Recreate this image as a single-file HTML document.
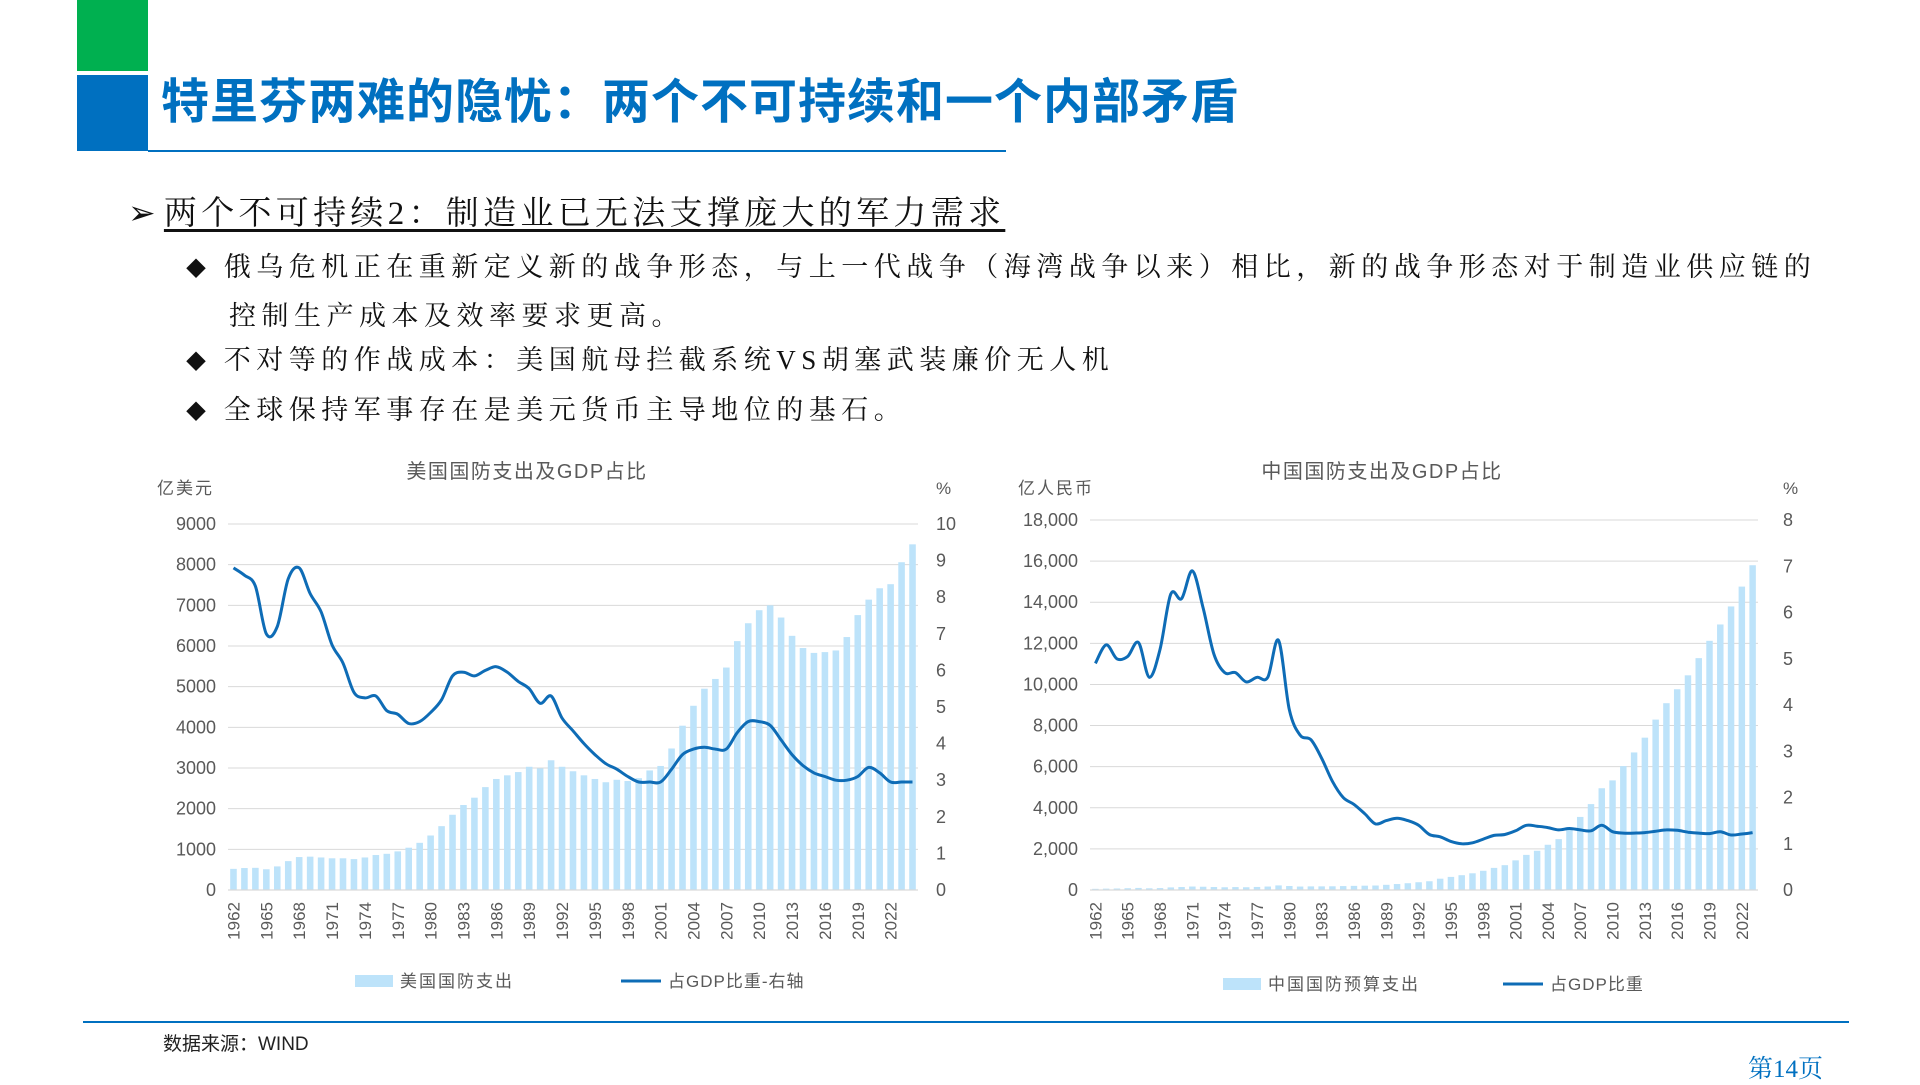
<!DOCTYPE html>
<html><head><meta charset="utf-8">
<style>
html,body{margin:0;padding:0;background:#fff;}
body{width:1920px;height:1080px;position:relative;overflow:hidden;font-family:"Liberation Sans","Noto Sans CJK SC",sans-serif;}
.abs{position:absolute;}
.serif{font-family:"Liberation Serif","Noto Serif CJK SC",serif;color:#111;}
</style></head><body>
<div class="abs" style="left:77px;top:0;width:71px;height:71px;background:#00B050;"></div>
<div class="abs" style="left:77px;top:75px;width:71px;height:76px;background:#0070C0;"></div>
<div class="abs" style="left:148px;top:150px;width:858px;height:2px;background:#0070C0;"></div>
<div class="abs" style="left:161px;top:62px;font-size:48px;letter-spacing:1px;font-weight:bold;color:#0070C0;font-family:'Liberation Sans','Noto Sans CJK SC',sans-serif;white-space:nowrap;">特里芬两难的隐忧：两个不可持续和一个内部矛盾</div>

<div class="abs serif" style="left:128px;top:187px;font-size:33px;white-space:nowrap;">➢ <span style="text-decoration:underline;text-underline-offset:5px;letter-spacing:4.3px;">两个不可持续2：制造业已无法支撑庞大的军力需求</span></div>
<div class="abs serif" style="left:186px;top:244px;font-size:27px;letter-spacing:5.5px;line-height:46px;white-space:nowrap;"><span style="font-size:20px;">◆</span>&nbsp;<span style="letter-spacing:5.5px;">俄乌危机正在重新定义新的战争形态，与上一代战争（海湾战争以来）相比，新的战争形态对于制造业供应链的</span><br><span style="margin-left:43px;">控制生产成本及效率要求更高。</span></div>
<div class="abs serif" style="left:186px;top:340px;font-size:27px;letter-spacing:5.5px;line-height:40px;white-space:nowrap;"><span style="font-size:20px;">◆</span>&nbsp;不对等的作战成本：美国航母拦截系统VS胡塞武装廉价无人机</div>
<div class="abs serif" style="left:186px;top:390px;font-size:27px;letter-spacing:5.5px;line-height:40px;white-space:nowrap;"><span style="font-size:20px;">◆</span>&nbsp;全球保持军事存在是美元货币主导地位的基石。</div>

<svg id="chart" class="abs" style="left:0;top:0" width="1920" height="1080"></svg>

<div class="abs" style="left:83px;top:1021px;width:1766px;height:2px;background:#0070C0;"></div>
<div class="abs" style="left:163px;top:1029px;font-size:19px;color:#222;">数据来源：WIND</div>
<div class="abs" style="left:1748px;top:1049px;font-size:25px;color:#0070C0;font-family:'Liberation Serif','Noto Serif CJK SC',serif;">第14页</div>

<script>
const usYears = [];
for (let y = 1962; y <= 2024; y++) usYears.push(y);
const usSpend = [520,540,545,510,580,710,810,820,800,780,780,760,800,860,890,950,1040,1160,1340,1570,1850,2090,2270,2530,2730,2820,2900,3030,2990,3190,3030,2920,2820,2730,2650,2710,2680,2750,2940,3050,3480,4040,4530,4950,5190,5470,6120,6560,6880,7000,6700,6250,5950,5830,5850,5890,6220,6760,7140,7420,7520,8060,8500];
const usPct = [8.8,8.6,8.3,7.0,7.2,8.5,8.8,8.1,7.6,6.7,6.2,5.4,5.25,5.3,4.9,4.8,4.55,4.6,4.85,5.2,5.85,5.95,5.85,6.0,6.1,5.95,5.7,5.5,5.1,5.3,4.7,4.35,4.0,3.7,3.45,3.3,3.1,2.95,2.95,2.95,3.3,3.7,3.85,3.9,3.85,3.85,4.3,4.6,4.6,4.5,4.1,3.7,3.4,3.2,3.1,3.0,3.0,3.1,3.35,3.2,2.95,2.95,2.95];
const usLeftTicks = ["0","1000","2000","3000","4000","5000","6000","7000","8000","9000"];
const usRightTicks = ["0","1","2","3","4","5","6","7","8","9","10"];

const cnYears = [];
for (let y = 1962; y <= 2023; y++) cnYears.push(y);
const cnSpend = [57,66,73,87,101,83,94,126,145,169,159,145,133,142,134,149,168,223,194,168,176,177,181,191,201,210,218,252,290,330,378,426,551,637,720,813,935,1076,1208,1442,1708,1908,2200,2475,2979,3555,4179,4951,5333,6028,6692,7411,8290,9088,9766,10444,11280,12122,12918,13795,14760,15800];
const cnPct = [4.9,5.3,5.0,5.05,5.35,4.6,5.2,6.4,6.3,6.9,6.1,5.1,4.7,4.7,4.5,4.6,4.6,5.4,3.9,3.35,3.25,2.85,2.35,2.0,1.85,1.65,1.43,1.5,1.55,1.5,1.4,1.2,1.15,1.05,1.0,1.02,1.1,1.18,1.2,1.28,1.4,1.38,1.35,1.3,1.33,1.3,1.28,1.4,1.26,1.23,1.23,1.24,1.27,1.3,1.29,1.25,1.23,1.22,1.26,1.19,1.21,1.24];
const cnLeftTicks = ["0","2,000","4,000","6,000","8,000","10,000","12,000","14,000","16,000","18,000"];
const cnRightTicks = ["0","1","2","3","4","5","6","7","8"];

const NS = "http://www.w3.org/2000/svg";
const svg = document.getElementById("chart");
function mk(tag, attrs, parent) {
  const e = document.createElementNS(NS, tag);
  for (const k in attrs) e.setAttribute(k, attrs[k]);
  (parent || svg).appendChild(e);
  return e;
}
function txt(x, y, s, attrs, parent) {
  const t = mk("text", Object.assign({x: x, y: y, "font-family": "Liberation Sans, Noto Sans CJK SC, sans-serif", "font-size": 17, fill: "#595959"}, attrs), parent);
  t.textContent = s;
  return t;
}
function smoothPath(pts) {
  let d = "M" + pts[0][0].toFixed(1) + "," + pts[0][1].toFixed(1);
  for (let i = 0; i < pts.length - 1; i++) {
    const p0 = pts[i - 1] || pts[i], p1 = pts[i], p2 = pts[i + 1], p3 = pts[i + 2] || p2;
    const c1x = p1[0] + (p2[0] - p0[0]) / 6, c1y = p1[1] + (p2[1] - p0[1]) / 6;
    const c2x = p2[0] - (p3[0] - p1[0]) / 6, c2y = p2[1] - (p3[1] - p1[1]) / 6;
    d += " C" + c1x.toFixed(1) + "," + c1y.toFixed(1) + " " + c2x.toFixed(1) + "," + c2y.toFixed(1) + " " + p2[0].toFixed(1) + "," + p2[1].toFixed(1);
  }
  return d;
}
function drawChart(cfg) {
  const g = mk("g", {});
  
  
  const n = cfg.years.length;
  const step = (cfg.x1 - cfg.x0) / n;
  const xc = i => cfg.x0 + step * (i + 0.5);
  const leftMax = cfg.leftMax, rightMax = cfg.rightMax;
  const yL = v => cfg.yb - (v / leftMax) * (cfg.yb - cfg.yt);
  const yR = v => cfg.yb - (v / rightMax) * (cfg.yb - cfg.yt);
  cfg.leftTicks.forEach((lab, i) => {
    const v = i * leftMax / (cfg.leftTicks.length - 1);
    const y = yL(v);
    const gl = mk("line", {x1: cfg.x0, x2: cfg.x1, y1: y, y2: y, stroke: "#D9D9D9", "stroke-width": 1}, g);
    
    
    const t = txt(cfg.x0 - 12, y + 6, lab, {"text-anchor": "end", "font-size": 18}, g);
    
    
  });
  cfg.rightTicks.forEach((lab, i) => {
    const v = i * rightMax / (cfg.rightTicks.length - 1);
    const t = txt(cfg.rx, yR(v) + 6, lab, {"text-anchor": "start", "font-size": 18}, g);
    
    
  });
  cfg.spend.forEach((v, i) => {
    const bw = step * 0.6;
    const r = mk("rect", {x: xc(i) - bw / 2, y: yL(v), width: bw, height: cfg.yb - yL(v), fill: "#BDE3FA"}, g);
    
    
  });
  const ax = mk("line", {x1: cfg.x0, x2: cfg.x1, y1: cfg.yb, y2: cfg.yb, stroke: "#D9D9D9", "stroke-width": 1.2}, g);
  
  
  cfg.years.forEach((yr, i) => {
    if ((yr - cfg.years[0]) % 3 !== 0) return;
    const x = xc(i) + 6;
    const t = txt(x, cfg.yb + 12, String(yr), {"text-anchor": "end", transform: "rotate(-90 " + x + " " + (cfg.yb + 12) + ")", "font-size": 17}, g);
    
    
  });
  const pts = cfg.pct.map((v, i) => [xc(i), yR(v)]);
  const p = mk("path", {d: smoothPath(pts), fill: "none", stroke: "#0E6CB6", "stroke-width": 3, "stroke-linejoin": "round"}, g);
  
  
  const tt = txt(cfg.titleX, 478, cfg.title, {"text-anchor": "middle", "font-size": 20, "letter-spacing": 1.5}, g);
  
  
  const ul = txt(cfg.unitX, 494, cfg.unit, {"font-size": 17, "letter-spacing": 2}, g);
  
  
  const ur = txt(cfg.rx, 494, "%", {"font-size": 17}, g);
  
  
  const lb = mk("rect", {x: cfg.legBar, y: cfg.legY - 6, width: 38, height: 12, fill: "#BDE3FA"}, g);
  
  
  const lbt = txt(cfg.legBar + 45, cfg.legY + 6, cfg.legBarText, {"font-size": 17, "letter-spacing": 2}, g);
  
  
  const ll = mk("line", {x1: cfg.legLine, x2: cfg.legLine + 40, y1: cfg.legY, y2: cfg.legY, stroke: "#0E6CB6", "stroke-width": 3}, g);
  
  
  const llt = txt(cfg.legLine + 47, cfg.legY + 6, cfg.legLineText, {"font-size": 17, "letter-spacing": 1}, g);
  
  
}
drawChart({name: "us-defense-chart", years: usYears, spend: usSpend, pct: usPct, leftTicks: usLeftTicks, rightTicks: usRightTicks,
  leftMax: 9000, rightMax: 10, x0: 228, x1: 918, yt: 524, yb: 890, rx: 936, titleX: 527, title: "美国国防支出及GDP占比", unitX: 157, unit: "亿美元",
  legY: 981, legBar: 355, legBarText: "美国国防支出", legLine: 621, legLineText: "占GDP比重-右轴"});
drawChart({name: "china-defense-chart", years: cnYears, spend: cnSpend, pct: cnPct, leftTicks: cnLeftTicks, rightTicks: cnRightTicks,
  leftMax: 18000, rightMax: 8, x0: 1090, x1: 1758, yt: 520, yb: 890, rx: 1783, titleX: 1382, title: "中国国防支出及GDP占比", unitX: 1018, unit: "亿人民币",
  legY: 984, legBar: 1223, legBarText: "中国国防预算支出", legLine: 1503, legLineText: "占GDP比重"});
</script>
</body></html>
